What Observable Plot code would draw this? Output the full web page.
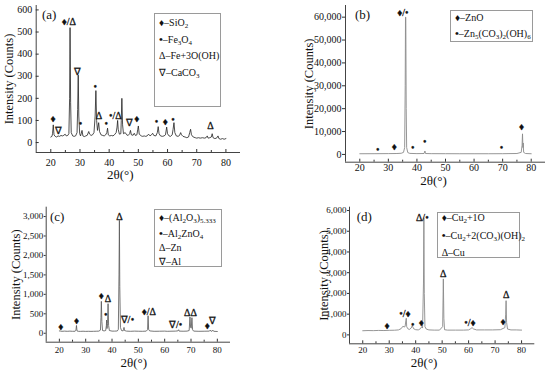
<!DOCTYPE html>
<html><head><meta charset="utf-8">
<script src="https://cdn.jsdelivr.net/npm/d3@7"></script>
<script src="https://cdn.jsdelivr.net/npm/@observablehq/plot@0.6"></script>
<style>
body{margin:0;background:#fff;}
#fig{position:relative;width:550px;height:370px;background:#fff;font-family:"Liberation Serif","Times New Roman",serif;color:#111;}
.panel{position:absolute;width:275px;height:185px;}
.panel svg{position:absolute;left:0;top:0;}
.legend{position:absolute;border:1px solid #9a9a9a;background:#fff;box-sizing:border-box;}
.legend .row{position:absolute;left:4px;white-space:nowrap;font-size:10px;line-height:12px;height:12px;}
.legend sub{font-size:70%;line-height:0;vertical-align:-0.35em;}
.legend b{font-size:110%;}
.tag{position:absolute;font-size:13px;line-height:14px;height:14px;}
</style></head><body><div id="fig"></div>
<script>
const xTicks = [20, 30, 40, 50, 60, 70, 80];
const xMinor = [25, 35, 45, 55, 65, 75];

// ---- (a) ----
const aTheta = [20.0,20.4,20.6,20.85,21.1,21.5,22.0,22.5,23.0,23.5,24.0,24.5,24.9,25.3,25.8,26.2,26.45,26.6,26.8,27.0,27.5,28.0,28.5,29.0,29.2,29.4,29.6,29.9,30.2,30.7,31.0,31.5,32.0,32.5,33.0,33.3,33.8,34.3,34.8,35.2,35.45,35.7,36.0,36.4,36.7,37.2,37.8,38.3,38.8,39.2,39.45,39.7,40.2,40.8,41.3,41.8,42.4,42.7,42.9,43.1,43.5,44.0,44.15,44.35,44.6,44.9,45.5,46.0,46.5,47.0,47.3,47.6,48.2,48.6,49.0,49.5,49.8,50.0,50.3,51.0,51.5,52.0,52.5,53.0,53.5,54.0,54.5,54.9,55.3,56.0,56.5,56.8,57.1,57.6,58.2,58.8,59.3,59.7,60.0,60.5,61.0,61.6,61.9,62.2,62.5,63.0,63.6,64.1,64.5,64.8,65.3,66.0,66.6,67.2,67.6,67.9,68.2,68.8,69.5,70.0,70.6,71.2,72.0,72.6,73.2,73.6,73.9,74.5,75.0,75.3,75.6,76.2,76.8,77.3,77.6,78.2,78.8,79.4,80.0];
const aCounts = [25,28,40,80,35,28,25,30,28,32,30,33,38,30,32,40,200,520,180,45,30,28,30,45,150,305,120,40,30,55,30,27,30,33,50,38,32,35,45,120,235,100,55,90,50,35,32,30,35,45,65,35,30,32,30,35,45,70,100,60,38,40,100,200,80,40,45,35,32,40,55,35,33,42,32,35,60,75,38,30,28,30,28,30,38,30,35,42,32,30,45,72,40,30,28,30,35,70,40,30,28,35,60,90,45,30,28,32,45,35,28,25,22,25,45,60,35,25,22,20,22,20,22,20,22,30,20,22,25,40,22,18,20,30,18,15,18,15,18];
const aTagTheta = [20.8,22.8,26.2,29.2,30.2,35.2,36.5,39.0,42.1,46.8,49.5,56.2,59.2,61.9,74.7];
const aTagCounts = [108,55,548,321,86,254,119,83,119,88,108,93,93,105,75];
const aTagText = ["♦","∇","♦/Δ","∇","•","•","Δ","•","•/Δ","∇","♦","•","♦","•","Δ"];
const aYTicks = [0, 100, 200, 300, 400, 500, 600];
const aLegend = ["♦–SiO<sub>2</sub>", "<b>•</b>–Fe<sub>3</sub>O<sub>4</sub>", "Δ–Fe+3O(OH)", "∇–CaCO<sub>3</sub>"];

// ---- (b) ----
const bTheta = [20,25,30,33,34.5,35.3,35.7,35.9,36.0,36.1,36.25,36.4,36.8,37.5,40,42.5,42.8,43.0,45,50,55,60,65,70,75,76.5,76.8,76.95,77.1,77.2,77.35,78,80];
const bCounts = [300,320,350,400,500,900,3000,30000,60000,60000,20000,3000,800,450,350,400,1500,400,330,320,300,300,300,320,400,900,4000,9000,3000,5000,900,400,300];
const bTagTheta = [26.3,32.1,35.1,38.5,42.7,69.6,76.6];
const bTagCounts = [2180,3190,62100,2920,5680,2750,11900];
const bTagText = ["•","♦","♦/•","•","•","•","♦"];
const bYTicks = [0, 10000, 20000, 30000, 40000, 50000, 60000];
const bLegend = ["♦–ZnO", "<b>•</b>–Zn<sub>5</sub>(CO<sub>3</sub>)<sub>2</sub>(OH)<sub>6</sub>"];

// ---- (c) ----
const cTheta = [20,20.5,21,22,23,24,25,26,26.3,26.5,26.7,27.2,28,29,30,31,32,33,34,35,35.6,35.8,35.95,36.15,36.4,37,37.6,37.85,37.95,38.1,38.3,38.5,38.7,39.0,40,41,42,42.4,42.65,42.8,42.95,43.2,43.6,44.2,44.4,44.55,44.75,45.5,47,48.5,50,51.5,53,53.5,53.7,53.9,54.3,56,58,60,61,62,64,65,65.3,65.5,67,68.5,69.3,69.6,69.85,70.1,70.35,70.6,71,73,75,77,77.3,77.6,78.1,78.3,78.6,80];
const cCounts = [60,55,50,55,50,55,50,52,80,200,60,50,48,52,48,50,48,50,52,55,80,400,820,300,70,60,70,200,340,120,250,760,200,70,55,55,58,100,1500,2900,1200,150,70,60,100,150,70,55,50,55,52,50,55,90,450,100,60,50,52,55,50,52,55,60,90,55,52,55,70,420,150,130,400,90,55,50,52,55,80,50,60,80,50,45];
const cTagTheta = [20.5,26.5,35.9,37.6,38.5,42.8,45.1,47.8,54.0,63.5,66.0,69.8,76.2,78.3];
const cTagCounts = [172,326,969,473,884,3000,344,344,558,224,224,524,198,308];
const cTagText = ["♦","♦","♦","•","Δ","Δ","∇/","•","♦/Δ","∇/","•","ΔΔ","♦","∇"];
const cYTicks = [0, 500, 1000, 1500, 2000, 2500, 3000];
const cLegend = ["♦–(Al<sub>2</sub>O<sub>3</sub>)<sub>5.333</sub>", "<b>•</b>–Al<sub>2</sub>ZnO<sub>4</sub>", "Δ–Zn", "∇–Al"];

// ---- (d) ----
const dTheta = [20,22,24,26,28,30,32,33.5,34.5,35.2,35.6,36.0,36.3,36.45,36.6,37,37.6,38.3,38.7,39.2,40,41,41.8,42.3,42.6,42.95,43.1,43.25,43.5,44,45,47,49,50.2,50.45,50.65,50.9,52,55,58,60,60.8,61.3,61.8,63,66,69,72,73.7,74.0,74.15,74.35,74.7,76,78,80];
const dCounts = [200,210,205,215,210,220,225,240,300,420,380,400,700,800,400,300,260,330,450,300,250,240,300,400,330,2500,5650,2000,400,280,240,230,230,400,2700,800,250,230,230,230,240,300,350,290,240,240,240,250,350,1000,1650,600,280,240,240,230];
const dTagTheta = [29.2,35.9,38.9,42.1,42.5,50.4,60.5,73.0,74.2];
const dTagCounts = [450,1013,497,579,5647,2944,560,608,1911];
const dTagText = ["♦","•/♦","•","♦","Δ/•","Δ","•/♦","♦","Δ"];
const dYTicks = [0, 1000, 2000, 3000, 4000, 5000, 6000];
const dLegend = ["♦–Cu<sub>2</sub>+1O", "<b>•</b>–Cu<sub>2</sub>+2(CO<sub>3</sub>)(OH)<sub>2</sub>", "Δ–Cu"];

const panels = [
  {tag:"(a)", left:0, top:0, theta:aTheta, counts:aCounts, tt:aTagTheta, tc:aTagCounts, ts:aTagText, yTicks:aYTicks, legend:aLegend,
   ml:35.7, mr:35, mt:5, mb:33, yDomain:[-45,620], fs:10, xPad:9.5, yTick:-3, yPad:7, comma:false,
   yTitleX:8.3, xTitleY:174, xTitleDx:-18, stroke:"#222", sw:0.8,
   tagX:42, tagY:15, lg:{l:154, t:12.7, w:66.7, h:94, rows:[22.7,39.3,56,72.7]}},
  {tag:"(b)", left:275, top:0, theta:bTheta, counts:bCounts, tt:bTagTheta, tc:bTagCounts, ts:bTagText, yTicks:bYTicks, legend:bLegend,
   ml:70, mr:5, mt:5, mb:23.3, yDomain:[-3400,65100], fs:10, xPad:4.5, yTick:3, yPad:1, comma:true,
   yTitleX:33.3, xTitleY:180, xTitleDx:-12, stroke:"#8a8a8a", sw:0.9,
   tagX:80, tagY:15, lg:{l:175, t:10, w:83.3, h:31.7, rows:[18.3,33.3]}},
  {tag:"(c)", left:0, top:185, theta:cTheta, counts:cCounts, tt:cTagTheta, tc:cTagCounts, ts:cTagText, yTicks:cYTicks, legend:cLegend,
   ml:45.7, mr:45, mt:21.7, mb:28.3, yDomain:[-230,3240], fs:9, xPad:7, yTick:2, yPad:1, comma:true,
   yTitleX:15, xTitleY:177, xTitleDx:-4.5, stroke:"#555", sw:0.8,
   tagX:50, tagY:31.7, lg:{l:154, t:24.3, w:67.7, h:57.4, rows:[32.7,47.7,63.3,76.7]}},
  {tag:"(d)", left:275, top:185, theta:dTheta, counts:dCounts, tt:dTagTheta, tc:dTagCounts, ts:dTagText, yTicks:dYTicks, legend:dLegend,
   ml:74, mr:15.7, mt:21.7, mb:26.7, yDomain:[-430,6160], fs:9, xPad:5.5, yTick:2, yPad:1, comma:true,
   yTitleX:48.3, xTitleY:177, xTitleDx:-18, stroke:"#8a8a8a", sw:0.9,
   tagX:81.7, tagY:31.7, lg:{l:161.7, t:26.7, w:83.3, h:46.7, rows:[33.3,50,68.3]}}
];

const fig = document.getElementById("fig");
for (const p of panels) {
  const pts = p.theta.map((t, i) => ({t, c: p.counts[i]}));
  const tags = p.tt.map((t, i) => ({t, c: p.tc[i], s: p.ts[i]}));
  const fmt = p.comma ? d3.format(",") : d3.format("d");
  const W = 275, H = 185;
  const svg = Plot.plot({
    width: W, height: H,
    marginLeft: p.ml, marginRight: p.mr, marginTop: p.mt, marginBottom: p.mb,
    style: {fontFamily: '"Liberation Serif","Times New Roman",serif', fontSize: p.fs + "px", color: "#333", background: "transparent", overflow: "visible"},
    x: {domain: [15, 85]},
    y: {domain: p.yDomain},
    marks: [
      Plot.ruleX([15], {stroke: "#444", strokeWidth: 1}),
      Plot.ruleY([p.yDomain[0]], {stroke: "#444", strokeWidth: 1}),
      Plot.axisX({ticks: xTicks, tickSize: -3, tickPadding: p.xPad, label: null, tickFormat: d3.format("d"), fill: "#111"}),
      Plot.axisX({ticks: xMinor, tickSize: -2, text: null, label: null}),
      Plot.axisY({ticks: p.yTicks, tickSize: p.yTick, tickPadding: p.yPad, label: null, tickFormat: fmt, fill: "#111"}),
      Plot.line(pts, {x: "t", y: "c", stroke: p.stroke, strokeWidth: p.sw}),
      Plot.text(tags, {x: "t", y: "c", text: "s", fontSize: 10, fill: "#111", stroke: "#111", strokeWidth: 0.3, lineAnchor: "middle"}),
      Plot.text(["Intensity (Counts)"], {text: d => d, frameAnchor: "left", textAnchor: "middle", lineAnchor: "middle", rotate: -90, dx: p.yTitleX - p.ml, fontSize: 12.5, fill: "#111"}),
      Plot.text(["2θ(°)"], {text: d => d, frameAnchor: "bottom", textAnchor: "middle", lineAnchor: "middle", dx: p.xTitleDx, dy: p.xTitleY - (H - p.mb), fontSize: 13, fill: "#111"})
    ]
  });
  const div = document.createElement("div");
  div.className = "panel";
  div.style.left = p.left + "px";
  div.style.top = p.top + "px";
  div.appendChild(svg);
  const tag = document.createElement("div");
  tag.className = "tag";
  tag.textContent = p.tag;
  tag.style.left = p.tagX + "px";
  tag.style.top = (p.tagY - 7) + "px";
  div.appendChild(tag);
  const lg = document.createElement("div");
  lg.className = "legend";
  Object.assign(lg.style, {left: p.lg.l + "px", top: p.lg.t + "px", width: p.lg.w + "px", height: p.lg.h + "px"});
  p.legend.forEach((html, i) => {
    const r = document.createElement("div");
    r.className = "row";
    r.innerHTML = html;
    r.style.top = (p.lg.rows[i] - p.lg.t - 1 - 6) + "px";
    lg.appendChild(r);
  });
  div.appendChild(lg);
  fig.appendChild(div);
}
</script></body></html>
